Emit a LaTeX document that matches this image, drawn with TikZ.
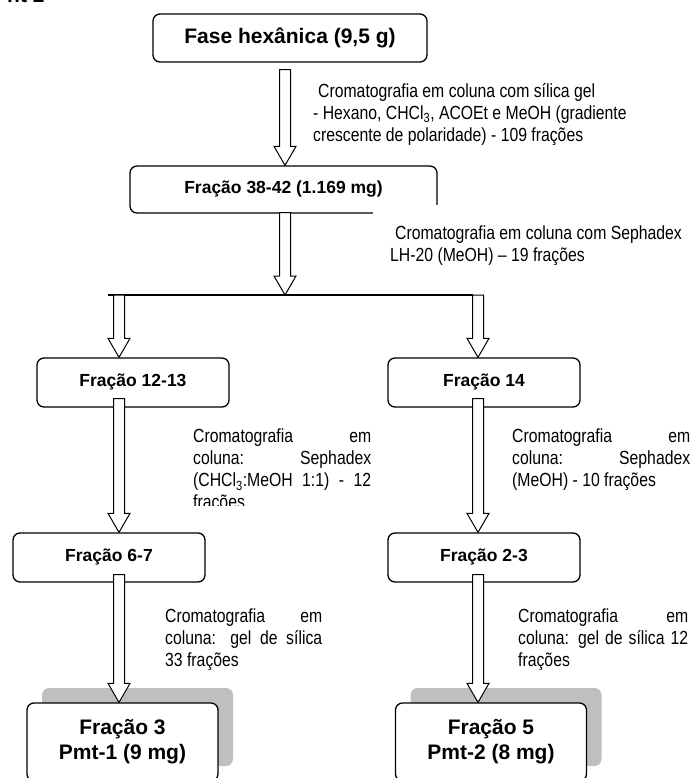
\documentclass[tikz,border=0pt]{standalone}
\usepackage{fontspec}
\setmainfont{Liberation Sans}
\newfontfamily\narrowfont{Liberation Sans}[FakeStretch=0.83]
\usetikzlibrary{calc,shadows}
\definecolor{shadowgray}{RGB}{191,191,191}

% one justified line of a label: width, words
\newcommand\fullline[2]{\makebox[#1][s]{#2}}

% hollow block arrow: start point, tip
\newcommand\hollowarrow[2]{%
  \draw[hollow] let \p1=(#1), \p2=(#2) in
    (\x1-5.5pt,\y1) -- (\x1+5.5pt,\y1) -- (\x1+5.5pt,\y2+19pt) -- (\x1+11pt,\y2+19pt)
    -- (\x1,\y2) -- (\x1-11pt,\y2+19pt) -- (\x1-5.5pt,\y2+19pt) -- cycle;}

\begin{document}
\begin{tikzpicture}[x=1pt, y=-1pt,
  box/.style={draw, line width=1.3pt, rounded corners=7pt, fill=white, inner sep=0pt,
    font=\bfseries\fontsize{17.5pt}{21pt}\selectfont},
  bigbox/.style={box, align=center, font=\bfseries\fontsize{21pt}{25pt}\selectfont},
  result/.style={bigbox, drop shadow={shadow xshift=15pt, shadow yshift=15pt, fill=shadowgray, opacity=1}},
  note/.style={anchor=north west, inner sep=0pt, align=left, font=\narrowfont\fontsize{19pt}{22pt}\selectfont},
  hollow/.style={draw, line width=1pt, fill=white}]
	\useasboundingbox (0,0) rectangle (697,778);
	\clip (0,0) rectangle (697,778);

	\node[anchor=base west, inner sep=0pt, font=\bfseries\fontsize{21pt}{25pt}\selectfont] (title) at (7,2.5) {nt 2};

	% boxes
	\node[bigbox, minimum width=274pt, minimum height=48pt] (hex)   at (290,38)    {Fase hexânica (9,5 g)};
	\node[box, minimum width=307pt, minimum height=47pt]    (f3842) at (283.5,189.5) {Fração 38-42 (1.169 mg)};
	\node[box, minimum width=192pt, minimum height=49pt]    (f1213) at (133,382.5) {Fração 12-13};
	\node[box, minimum width=192pt, minimum height=49pt]    (f14)   at (484,382.5) {Fração 14};
	\node[box, minimum width=192pt, minimum height=49pt]    (f67)   at (109,557.5) {Fração 6-7};
	\node[box, minimum width=192pt, minimum height=49pt]    (f23)   at (484,557.5) {Fração 2-3};
	\node[result, minimum width=191pt, minimum height=78pt] (pmt1)  at (122.5,742) {Fração 3\\Pmt-1 (9 mg)};
	\node[result, minimum width=191pt, minimum height=78pt] (pmt2)  at (491,742)   {Fração 5\\Pmt-2 (8 mg)};

	% labels
	\node[note] (lbl1) at (313,83) {\hspace*{5pt}Cromatografia em coluna com sílica gel\\- Hexano, CHCl\textsubscript{3}, ACOEt e MeOH (gradiente\\crescente de polaridade) - 109 frações};
	\node[note, fill=white, inner xsep=17pt, inner ysep=21pt] (lbl2) at (373,205) {\hspace*{5pt}Cromatografia em coluna com Sephadex\\LH-20 (MeOH) – 19 frações};
	\begin{scope}
		\clip (150,420) rectangle (400,505);
		\node[note] (lbl3) at (193,429) {\fullline{178pt}{Cromatografia em}\\\fullline{178pt}{coluna: Sephadex}\\\fullline{178pt}{(CHCl\textsubscript{3}:MeOH 1:1) - 12}\\frações};
	\end{scope}
	\node[note] (lbl4) at (512,429) {\fullline{178pt}{Cromatografia em}\\\fullline{178pt}{coluna: Sephadex}\\(MeOH) - 10 frações};
	\node[note] (lbl5) at (165,609) {\fullline{157pt}{Cromatografia em}\\\fullline{157pt}{coluna: gel de sílica}\\33 frações};
	\node[note] (lbl6) at (518,609) {\fullline{170pt}{Cromatografia em}\\\fullline{170pt}{coluna: gel de sílica 12}\\frações};

	% arrows
	\coordinate (colM) at (285,0);
	\coordinate (colL) at (119,0);
	\coordinate (colR) at (478,0);
	\coordinate (splitL) at (108,295);
	\coordinate (splitR) at (472.5,295);
	\draw[line width=1.3pt] (splitL) -- (splitR);
	\hollowarrow{$(hex.south -| colM)+(0,7)$}{f3842.north -| colM}
	\hollowarrow{$(f3842.south -| colM)+(0,-1)$}{splitL -| colM}
	\hollowarrow{splitL -| colL}{f1213.north -| colL}
	\hollowarrow{splitR -| colR}{f14.north -| colR}
	\hollowarrow{$(f1213.south -| colL)+(0,-9)$}{f67.north -| colL}
	\hollowarrow{$(f14.south -| colR)+(0,-9)$}{f23.north -| colR}
	\hollowarrow{$(f67.south -| colL)+(0,-8)$}{pmt1.north -| colL}
	\hollowarrow{$(f23.south -| colR)+(0,-8)$}{pmt2.north -| colR}
\end{tikzpicture}
\end{document}
